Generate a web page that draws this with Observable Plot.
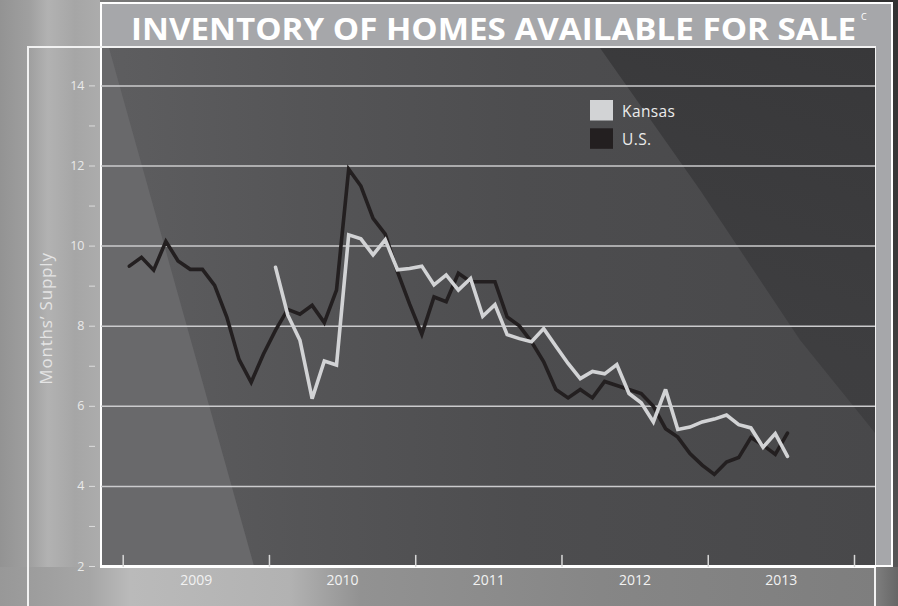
<!DOCTYPE html>
<html><head><meta charset="utf-8">
<script src="https://cdn.jsdelivr.net/npm/d3@7"></script>
<script src="https://cdn.jsdelivr.net/npm/@observablehq/plot@0.6"></script>
<style>
body{margin:0;background:#8c8c8c;}
#wrap{position:relative;width:898px;height:606px;overflow:hidden;font-family:"Open Sans",sans-serif;
 background:linear-gradient(90deg,#939393 0,#a0a0a0 30px,#b2b2b2 48px,#a6a6a6 75px,#acacac 100px,#9c9c9c 330px,#878787 520px,#7a7a7a 898px);}
.abs{position:absolute;}
#chart svg, #ov{position:absolute;left:0;top:0;}
</style></head>
<body>
<div id="wrap">
  <div class="abs" style="left:100px;top:0;width:798px;height:3px;background:linear-gradient(90deg,#7a7a7a,#4a4a4a 50%,#2f2f2f)"></div>
  <div class="abs" style="left:893px;top:0;width:5px;height:606px;background:linear-gradient(180deg,#333 0,#3a3a3a 300px,#5a5a5a 606px)"></div>
  <div class="abs" style="left:0;top:567px;width:898px;height:39px;background:linear-gradient(90deg,#989898 0,#a6a6a6 90px,#bababa 130px,#b2b2b2 290px,#929292 360px,#868686 600px,#7e7e7e 876px,#666 898px)"></div>
  <!-- title box -->
  <div class="abs" style="left:100px;top:2px;width:789px;height:561px;border:2px solid #fff;background:#a6a7aa"></div>
  <!-- outer frame -->
  <div class="abs" style="left:27px;top:46px;width:845px;height:620px;border:2px solid #f2f2f2"></div>
  <!-- plot panel -->
  <div class="abs" style="left:101px;top:48px;width:774px;height:518px;background:linear-gradient(90deg,#5e5e60 0,#555557 200px,#4d4d4f 420px,#48484a 774px);overflow:hidden">
    <div class="abs" style="left:0;top:0;width:774px;height:518px;background:#69696b;clip-path:polygon(0 0,8px 0,153px 518px,0 518px)"></div>
    <div class="abs" style="left:0;top:0;width:774px;height:518px;background:linear-gradient(200deg,#38383a 0,#3e3e40 40%,#414143 100%);clip-path:polygon(499px 0,774px 0,774px 385px,766px 375px,699px 292px,599px 142px)"></div>
  </div>
  <div class="abs" style="left:100px;top:48px;width:2px;height:519px;background:#fff"></div>
  <div class="abs" style="left:100px;top:565px;width:776px;height:2.5px;background:#fff"></div>
  <div id="chart"></div>
</div>
<script>
// ---- data ----
const seriesNames = ["Kansas", "U.S."];
const seriesColors = ["#d2d3d5", "#231f20"];

// U.S. months' supply, monthly Jan 2009 – Jul 2013
const usStart = [2009, 0];
const usValues = [
  9.5, 9.72, 9.4, 10.12, 9.63, 9.42, 9.42, 9.02, 8.23, 7.17, 6.6, 7.3,
  7.9, 8.42, 8.3, 8.52, 8.09, 8.9, 11.92, 11.5, 10.69, 10.3, 9.36, 8.55,
  7.8, 8.73, 8.61, 9.32, 9.11, 9.11, 9.11, 8.23, 8.01, 7.61, 7.11, 6.42,
  6.21, 6.42, 6.21, 6.62, 6.52, 6.42, 6.32, 6.0, 5.44, 5.23, 4.82, 4.53,
  4.3, 4.61, 4.72, 5.22, 5.03, 4.8, 5.33
];
// Kansas months' supply, monthly Jan 2010 – Jul 2013
const ksStart = [2010, 0];
const ksValues = [
  9.47, 8.28, 7.65, 6.19, 7.13, 7.03, 10.28, 10.18, 9.78, 10.16, 9.41, 9.44,
  9.5, 9.03, 9.28, 8.9, 9.19, 8.25, 8.54, 7.79, 7.69, 7.61, 7.94, 7.5,
  7.07, 6.69, 6.87, 6.81, 7.04, 6.32, 6.09, 5.61, 6.42, 5.42, 5.48, 5.61,
  5.68, 5.78, 5.54, 5.46, 4.98, 5.32, 4.75
];
const yearTicks = [2009, 2010, 2011, 2012, 2013, 2014];
const yearLabels = [2009, 2010, 2011, 2012, 2013];
const yTicks = [2, 3, 4, 5, 6, 7, 8, 9, 10, 11, 12, 13, 14];
const yLabelTicks = [2, 4, 6, 8, 10, 12, 14];
const gridTicks = [4, 6, 8, 10, 12, 14];
const yTitle = "Months\u2019 Supply";
const title = "INVENTORY OF HOMES AVAILABLE FOR SALE";
const titleNote = "C";

// ---- build tables ----
function toRows(start, values, name) {
  return values.map((v, i) => ({t: start[0] + (start[1] + i + 0.5) / 12, v, name}));
}
const us = toRows(usStart, usValues, "U.S.");
const ks = toRows(ksStart, ksValues, "Kansas");

const axisColor = "#e9e9e9";
const chart = Plot.plot({
  width: 898, height: 606,
  marginLeft: 101, marginRight: 23, marginTop: 48, marginBottom: 40,
  style: {background: "transparent", fontFamily: "'Open Sans', sans-serif", overflow: "visible"},
  x: {type: "linear", domain: [2008.8516, 2014.1436]},
  y: {type: "linear", domain: [2, 14.934]},
  marks: [
    Plot.gridY(gridTicks, {stroke: "#cbcbcd", strokeOpacity: 1, strokeWidth: 1.5}),
    Plot.axisY({ticks: yTicks, tickFormat: d => (yLabelTicks.includes(d) ? String(d) : ""), tickSize: 6, tickPadding: 5, dx: -6, fontSize: 12.5, color: axisColor, stroke: "#dcdcdc", label: null}),
    Plot.axisX({ticks: yearLabels.map(d => d + 0.5), tickSize: 0, tickPadding: 9, tickFormat: d => String(Math.floor(d)), fontSize: 14, color: "#f2f2f2", label: null}),
    Plot.vector(yearTicks, {x: d => d, frameAnchor: "bottom", length: 11, anchor: "start", rotate: 0, stroke: "#d8d8d8", strokeWidth: 1.5,
      shape: {draw(ctx, l) { ctx.moveTo(0, 0); ctx.lineTo(0, -l); }}}),
    Plot.text([yTitle], {frameAnchor: "left", textAnchor: "middle", dx: -55, dy: 11, rotate: -90, fontSize: 17, fill: "#e4e4e4", text: d => d, className: "ytitle"}),
    Plot.line(us, {x: "t", y: "v", stroke: seriesColors[1], strokeWidth: 3.6, strokeLinejoin: "miter", strokeMiterlimit: 3}),
    Plot.line(ks, {x: "t", y: "v", stroke: seriesColors[0], strokeWidth: 3.6, strokeLinejoin: "miter", strokeMiterlimit: 3})
  ]
});
document.getElementById("chart").appendChild(chart);
d3.select(chart).selectAll(".ytitle text").style("letter-spacing", "0.8px");

// ---- title & legend overlay ----
const ov = d3.select("#wrap").append("svg").attr("id", "ov").attr("width", 898).attr("height", 606)
  .style("font-family", "'Open Sans', sans-serif");
ov.append("text").attr("x", 131).attr("y", 39.5).attr("textLength", 725).attr("lengthAdjust", "spacingAndGlyphs")
  .attr("font-size", 31).attr("font-weight", 700).attr("fill", "#ffffff").text(title);
ov.append("text").attr("x", 861).attr("y", 20).attr("font-size", 9).attr("fill", "#ffffff").text(titleNote);
const lg = ov.append("g");
seriesNames.forEach((name, i) => {
  const y0 = 100 + i * 28.3;
  lg.append("rect").attr("x", 590).attr("y", y0).attr("width", 23).attr("height", 20.5).attr("fill", seriesColors[i]);
  lg.append("text").attr("x", 622).attr("y", y0 + 16.5).attr("font-size", 15.5).attr("fill", "#ebebeb").attr("letter-spacing", "0.4px").text(name);
});
</script>
</body></html>
